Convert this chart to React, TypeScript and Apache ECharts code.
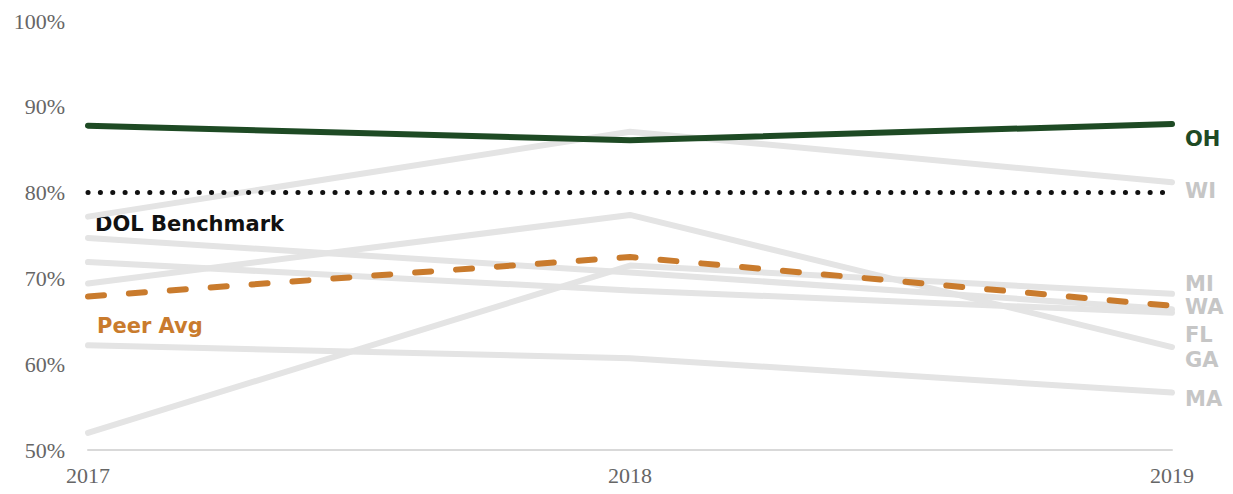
import React, { useEffect, useRef } from "react";
import * as echarts from "echarts";

const years = ["2017", "2018", "2019"];
const ohValues = [87.8, 86.1, 88.0];
const benchmarkValues = [80, 80, 80];
const peerAvgValues = [67.9, 72.5, 66.8];
const wiValues = [77.2, 87.1, 81.2];
const miValues = [52.0, 71.5, 68.2];
const waValues = [74.7, 70.7, 66.4];
const flValues = [71.9, 68.6, 66.0];
const gaValues = [69.4, 77.4, 62.0];
const maValues = [62.2, 60.7, 56.7];
const yTicks = [50, 60, 70, 80, 90, 100];

const GRAY_LINE = "#E4E4E4";
const GRAY_LABEL = "#C6C6C6";
const GREEN = "#1E4A24";
const ORANGE = "#C97B2D";
const LABEL_FONT = "'DejaVu Sans', sans-serif";

function grayLine(name: string, data: number[], dy: number) {
  return {
    name,
    type: "line",
    data,
    symbol: "none",
    z: 2,
    lineStyle: { color: GRAY_LINE, width: 6, cap: "round" },
    endLabel: {
      show: true,
      formatter: name,
      color: GRAY_LABEL,
      fontFamily: LABEL_FONT,
      fontWeight: "bold",
      fontSize: 21,
      distance: 13,
      offset: [0, dy],
    },
  };
}

export default function App() {
  const ref = useRef<HTMLDivElement>(null);
  useEffect(() => {
    document.body.style.margin = "0";
    const chart = echarts.init(ref.current!, null, { renderer: "svg" });
    chart.setOption({
      animation: false,
      backgroundColor: "#ffffff",
      grid: { left: 88, right: 61, top: 21, bottom: 44 },
      xAxis: {
        type: "category",
        data: years,
        boundaryGap: false,
        axisLine: { show: true, lineStyle: { color: "#D9D9D9", width: 2 } },
        axisTick: { show: false },
        axisLabel: {
          color: "#666666",
          fontFamily: "'Liberation Serif', 'Times New Roman', serif",
          fontSize: 22,
          margin: 14,
        },
      },
      yAxis: {
        type: "value",
        min: 50,
        max: 100,
        interval: 10,
        axisLine: { show: false },
        axisTick: { show: false },
        splitLine: { show: false },
        axisLabel: {
          color: "#666666",
          fontFamily: "'Liberation Serif', 'Times New Roman', serif",
          fontSize: 22,
          margin: 23,
          formatter: (v: number) => (yTicks.includes(v) ? v + "%" : ""),
        },
      },
      series: [
        grayLine("WI", wiValues, 9),
        grayLine("MI", miValues, -10),
        grayLine("WA", waValues, -2),
        grayLine("FL", flValues, 22),
        grayLine("GA", gaValues, 13),
        grayLine("MA", maValues, 6),
        {
          name: "Peer Avg",
          type: "line",
          data: peerAvgValues,
          symbol: "none",
          z: 3,
          lineStyle: { color: ORANGE, width: 6, type: [16, 25], cap: "round" },
        },
        {
          name: "DOL Benchmark",
          type: "line",
          data: benchmarkValues,
          symbol: "none",
          z: 4,
          lineStyle: { color: "#111111", width: 5, type: [0.1, 12.25], cap: "round" },
        },
        {
          name: "OH",
          type: "line",
          data: ohValues,
          symbol: "none",
          z: 5,
          lineStyle: { color: GREEN, width: 6, cap: "round" },
          endLabel: {
            show: true,
            formatter: "OH",
            color: GREEN,
            fontFamily: LABEL_FONT,
            fontWeight: "bold",
            fontSize: 21,
            distance: 13,
            offset: [0, 15],
          },
        },
      ],
      graphic: [
        {
          type: "text",
          left: 95,
          top: 213,
          style: {
            text: "DOL Benchmark",
            fill: "#111111",
            font: "bold 21px 'DejaVu Sans', sans-serif",
          },
        },
        {
          type: "text",
          left: 97,
          top: 315,
          style: {
            text: "Peer Avg",
            fill: ORANGE,
            font: "bold 21px 'DejaVu Sans', sans-serif",
          },
        },
      ],
    });
    return () => chart.dispose();
  }, []);
  return <div ref={ref} style={{ width: 1233, height: 494 }} />;
}
